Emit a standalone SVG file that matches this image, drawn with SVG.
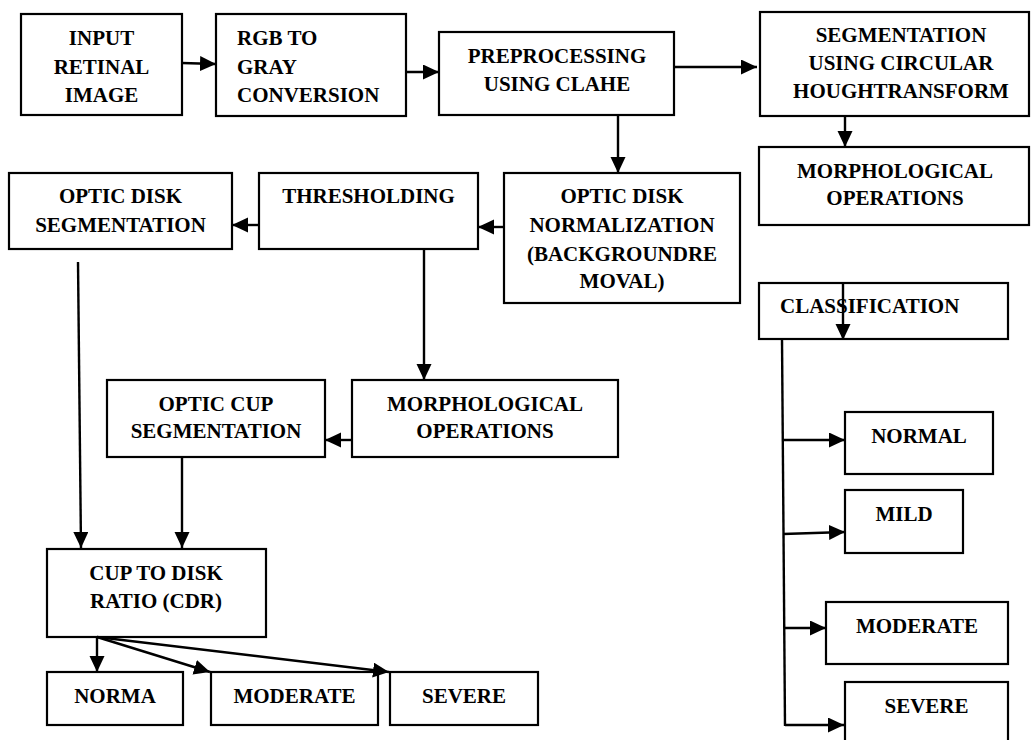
<svg xmlns="http://www.w3.org/2000/svg" width="1032" height="740" viewBox="0 0 1032 740">
<style>
.box{fill:#fff;stroke:#000;stroke-width:2.2}
text{font-family:"Liberation Serif","Times New Roman",serif;font-weight:bold;font-size:21px;fill:#000}
.c{text-anchor:middle}
.ln{fill:none;stroke:#000;stroke-width:2.4}
</style>
<defs>
<marker id="ah" markerUnits="userSpaceOnUse" markerWidth="17" markerHeight="16" refX="16" refY="7.5" orient="auto">
<path d="M0,0 L16,7.5 L0,15 z" fill="#000"/>
</marker>
</defs>
<rect width="1032" height="740" fill="#fff"/>
<g id="input"><rect class="box" x="21" y="14" width="161" height="101"/>
<text class="c" x="101.5" y="45">INPUT</text><text class="c" x="101.5" y="74">RETINAL</text><text class="c" x="101.5" y="102">IMAGE</text></g>
<g id="rgb"><rect class="box" x="216" y="14" width="190" height="102"/>
<text x="237" y="45">RGB TO</text><text x="237" y="74">GRAY</text><text x="237" y="102">CONVERSION</text></g>
<g id="pre"><rect class="box" x="439" y="32" width="235" height="83"/>
<text class="c" x="557" y="63">PREPROCESSING</text><text class="c" x="557" y="91">USING CLAHE</text></g>
<g id="seg"><rect class="box" x="760" y="12" width="269" height="104"/>
<text class="c" x="901" y="42">SEGMENTATION</text><text class="c" x="901" y="70">USING CIRCULAR</text><text class="c" x="901" y="98">HOUGHTRANSFORM</text></g>
<g id="morph1"><rect class="box" x="759" y="147" width="270" height="78"/>
<text class="c" x="895" y="178">MORPHOLOGICAL</text><text class="c" x="895" y="205">OPERATIONS</text></g>
<g id="norm"><rect class="box" x="504" y="173" width="236" height="130"/>
<text class="c" x="622" y="203">OPTIC DISK</text><text class="c" x="622" y="232">NORMALIZATION</text><text class="c" x="622" y="261">(BACKGROUNDRE</text><text class="c" x="622" y="288">MOVAL)</text></g>
<g id="thresh"><rect class="box" x="259" y="173" width="219" height="76"/>
<text class="c" x="368.5" y="203">THRESHOLDING</text></g>
<g id="ods"><rect class="box" x="9" y="173" width="223" height="76"/>
<text class="c" x="120.5" y="203">OPTIC DISK</text><text class="c" x="120.5" y="232">SEGMENTATION</text></g>
<g id="morph2"><rect class="box" x="352" y="380" width="266" height="77"/>
<text class="c" x="485" y="411">MORPHOLOGICAL</text><text class="c" x="485" y="438">OPERATIONS</text></g>
<g id="ocup"><rect class="box" x="107" y="380" width="218" height="77"/>
<text class="c" x="216" y="411">OPTIC CUP</text><text class="c" x="216" y="438">SEGMENTATION</text></g>
<g id="cdr"><rect class="box" x="47" y="549" width="219" height="88"/>
<text class="c" x="156" y="580">CUP TO DISK</text><text class="c" x="156" y="608">RATIO (CDR)</text></g>
<g id="norma"><rect class="box" x="47" y="672" width="136" height="53"/><text class="c" x="115" y="703">NORMA</text></g>
<g id="moderate1"><rect class="box" x="211" y="672" width="167" height="53"/><text class="c" x="294.5" y="703">MODERATE</text></g>
<g id="severe1"><rect class="box" x="390" y="672" width="148" height="53"/><text class="c" x="464" y="703">SEVERE</text></g>
<g id="classification"><rect class="box" x="759" y="283" width="249" height="56"/><text x="780" y="313">CLASSIFICATION</text></g>
<g id="normal"><rect class="box" x="845" y="412" width="148" height="62"/><text class="c" x="919" y="443">NORMAL</text></g>
<g id="mild"><rect class="box" x="845" y="490" width="118" height="63"/><text class="c" x="904" y="521">MILD</text></g>
<g id="moderate2"><rect class="box" x="826" y="602" width="182" height="62"/><text class="c" x="917" y="633">MODERATE</text></g>
<g id="severe2"><rect class="box" x="845" y="682" width="163" height="62"/><text class="c" x="926.5" y="713">SEVERE</text></g>
<g id="connectors">
<path class="ln" d="M182,63 L216,64" marker-end="url(#ah)"/>
<path class="ln" d="M406,72 L439,72" marker-end="url(#ah)"/>
<path class="ln" d="M674,67 L757,67" marker-end="url(#ah)"/>
<path class="ln" d="M618,115 L618,173" marker-end="url(#ah)"/>
<path class="ln" d="M845,116 L845,147" marker-end="url(#ah)"/>
<path class="ln" d="M504,227 L478,227" marker-end="url(#ah)"/>
<path class="ln" d="M259,225 L232,225" marker-end="url(#ah)"/>
<path class="ln" d="M424,249 L424,380" marker-end="url(#ah)"/>
<path class="ln" d="M352,440 L325,440" marker-end="url(#ah)"/>
<path class="ln" d="M78,262 L81,548" marker-end="url(#ah)"/>
<path class="ln" d="M182,457 L182,548" marker-end="url(#ah)"/>
<path class="ln" d="M97,637 L97,672" marker-end="url(#ah)"/>
<path class="ln" d="M97,637 L210,672" marker-end="url(#ah)"/>
<path class="ln" d="M97,637 L389,672" marker-end="url(#ah)"/>
<path class="ln" d="M843,284 L843,340" marker-end="url(#ah)"/>
<path class="ln" d="M782,339 L785,726"/>
<path class="ln" d="M782,440 L845,440" marker-end="url(#ah)"/>
<path class="ln" d="M783,534 L845,532" marker-end="url(#ah)"/>
<path class="ln" d="M784,628 L826,628" marker-end="url(#ah)"/>
<path class="ln" d="M785,725 L844,725" marker-end="url(#ah)"/>
</g>
</svg>
